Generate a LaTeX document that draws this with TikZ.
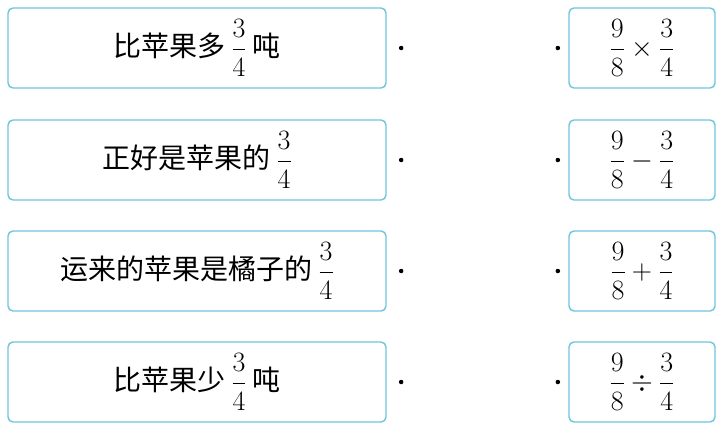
\RequirePackage{fix-cm}
\documentclass[tikz,border=0pt]{standalone}
\usepackage{amsmath}
\usepackage{fontspec}
\newfontfamily\cjk{Noto Sans CJK SC}
\usetikzlibrary{positioning}
\definecolor{boxline}{HTML}{6CC4DE}
\tikzset{
  leftbox/.style={draw=boxline,line width=1.4pt,rounded corners=5pt,minimum width=378pt,minimum height=80pt,font=\fontsize{28}{32}\selectfont\cjk},
  rightbox/.style={draw=boxline,line width=1.4pt,rounded corners=5pt,minimum width=146pt,minimum height=80pt,font=\fontsize{28}{32}\selectfont},
  pt/.style={circle,fill=black,inner sep=0pt,minimum size=4.5pt}
}
\newcommand{\fr}[2]{$\dfrac{#1}{#2}$}
\begin{document}
\begin{tikzpicture}[x=1pt,y=-1pt]
\useasboundingbox (0,0) rectangle (720,432);

\node[leftbox] (l1) at (197,48) {比苹果多 \fr{3}{4} 吨};
\node[leftbox] (l2) at (197,160) {正好是苹果的 \fr{3}{4}};
\node[leftbox] (l3) at (197,271) {运来的苹果是橘子的 \fr{3}{4}};
\node[leftbox] (l4) at (197,382) {比苹果少 \fr{3}{4} 吨};

\node[rightbox] (r1) at (642,48) {$\dfrac{9}{8}\times\dfrac{3}{4}$};
\node[rightbox] (r2) at (642,160) {$\dfrac{9}{8}-\dfrac{3}{4}$};
\node[rightbox] (r3) at (642,271) {$\dfrac{9}{8}+\dfrac{3}{4}$};
\node[rightbox] (r4) at (642,382) {$\dfrac{9}{8}\div\dfrac{3}{4}$};

\foreach \i in {1,...,4}{
  \node[pt] (p\i) [right=12pt of l\i] {};
  \node[pt] (q\i) [left=8pt of r\i] {};
}
\end{tikzpicture}
\end{document}
